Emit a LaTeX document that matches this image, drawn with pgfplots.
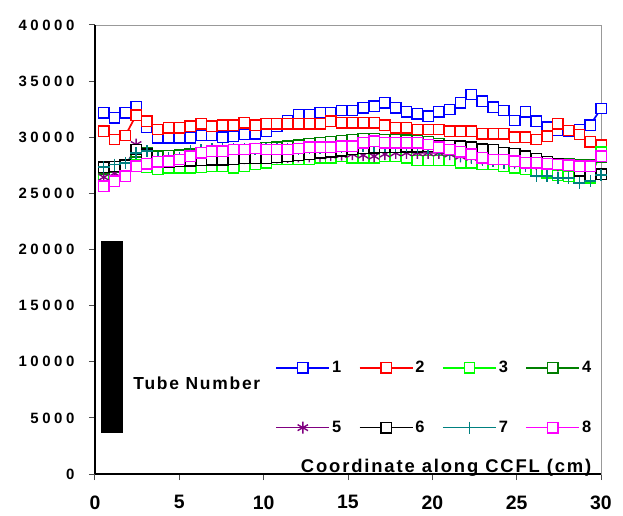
\documentclass[border=0pt]{standalone}
\usepackage{fontspec}
\setmainfont{Liberation Sans}
\newfontfamily\spacedfont{Liberation Sans}[LetterSpace=24]
\newfontfamily\labelfont{Liberation Sans}[LetterSpace=10]
\usepackage{pgfplots}
\usepackage{pgfplotstable}
\pgfplotsset{compat=1.18}

\newcommand\yfont{\spacedfont\bfseries\fontsize{15}{15}\selectfont}
\newcommand\xfont{\bfseries\fontsize{19.5}{20}\selectfont}
\newcommand\lblfont{\labelfont\bfseries\fontsize{17.5}{18}\selectfont}
\newcommand\xlblfont{\labelfont\bfseries\fontsize{18.5}{19}\selectfont}
\newcommand\lgfont{\bfseries\fontsize{16.5}{17}\selectfont}

% brightness along the tube, 8 tubes
\pgfplotstableread{
x     s1    s2    s3    s4    s5    s6    s7    s8
0.52  32180 30540 26300 27200 26440 27340 27340 25640
1.16  31720 29800 26500 27350 26800 27400 27570 26090
1.80  32180 30150 26700 27500 27200 27500 27720 26530
2.44  32700 31970 27500 28700 29350 28900 28610 27420
3.08  30900 31430 27300 28600 28500 28500 28760 27630
3.73  29950 30690 27120 28300 27900 27800 28160 27810
4.37  29950 30840 27270 28350 27900 27800 28160 27870
5.01  29950 30840 27270 28400 27950 27850 28160 28010
5.65  29950 30990 27270 28500 28000 27900 28760 28310
6.29  30150 31200 27300 28600 28050 27950 28820 28610
6.93  30150 30990 27420 28650 28100 28000 28910 28760
7.57  30000 31080 27420 28700 28100 28000 28910 28760
8.21  30100 31080 27270 28800 28150 28050 28910 28910
8.85  30240 31290 27420 28900 28150 28100 28910 28910
9.49  30300 31080 27570 29000 28160 28100 28990 28990
10.14 30540 31200 27720 29050 28160 28150 28910 28910
10.78 31000 31200 28010 29100 28200 28200 28990 28910
11.42 31500 31200 28010 29200 28250 28300 28990 28910
12.06 32000 31200 28010 29300 28300 28400 28990 28990
12.70 32030 31200 28010 29400 28300 28500 29060 29120
13.34 32180 31200 28160 29500 28350 28600 29060 29120
13.98 32180 31430 28160 29600 28400 28700 29120 29120
14.62 32380 31290 28310 29700 28450 28800 29120 29210
15.26 32380 31290 28160 29800 28500 28900 29210 29210
15.90 32620 31290 28160 29850 28400 29000 29210 29500
16.55 32770 31290 28160 29850 28310 29050 29210 29650
17.19 33070 31080 28310 29800 28500 29100 29210 29500
17.83 32620 30840 28310 29800 28600 29100 29210 29500
18.47 32260 30840 28160 29750 28610 29150 29210 29500
19.11 32090 30690 27920 29700 28610 29150 29120 29500
19.75 31880 30690 27920 29600 28610 29200 29060 29350
20.39 32260 30690 27920 29400 28610 29200 28910 29120
21.03 32470 30540 27920 29200 28500 29250 28610 28910
21.67 33070 30540 27720 29000 28300 29200 28310 28700
22.31 33810 30540 27720 28800 28200 29100 28160 28500
22.96 33220 30300 27570 28600 28100 28950 28010 28160
23.60 32680 30300 27570 28400 28000 28900 27870 28010
24.24 32380 30300 27420 28200 27900 28600 27720 28010
24.88 31490 30010 27270 28000 27800 28550 27720 27870
25.52 32260 30010 27120 27900 27700 28300 27420 27720
26.16 31430 29800 26980 27800 27600 28100 26530 27720
26.80 30900 30100 26830 27700 27550 27800 26530 27630
27.44 30600 31200 26620 27600 27500 27600 26380 27570
28.08 30540 30600 26530 27600 27500 27500 26380 27510
28.72 30690 30240 26440 27500 27450 27000 25940 27420
29.36 31080 29590 26380 27500 27500 26600 26090 27420
30.00 32560 29300 28650 28200 28300 26700 26620 28310
}\data

\definecolor{xlblue}{HTML}{0000FF}
\definecolor{xlred}{HTML}{FF0000}
\definecolor{xllime}{HTML}{00FF00}
\definecolor{xlgreen}{HTML}{008000}
\definecolor{xlpurple}{HTML}{800080}
\definecolor{xlteal}{HTML}{008080}
\definecolor{xlpink}{HTML}{FF00FF}

\pgfplotsset{ser/.style={line width=1.7bp, mark size=5.2bp,
    mark options={solid, fill=white, line width=1.4bp}}}

\begin{document}
\begin{tikzpicture}
\begin{axis}[
    scale only axis, width=506bp, height=449bp,
    xmin=0, xmax=30, ymin=0, ymax=40000,
    scaled y ticks=false,
    xtick={0,5,...,30}, ytick={0,5000,...,40000},
    xticklabels={0,5,10,15,20,25,30},
    yticklabels={0,5000,10000,15000,20000,25000,30000,35000,40000},
    tick pos=left, tick align=outside, major tick length=6bp,
    tick style={gray!60!black, line width=1bp},
    axis line style={gray!80, line width=0.8bp},
    yticklabel style={font=\yfont, xshift=-11bp},
    xticklabel style={font=\xfont, yshift=-12bp},
    clip=false,
    legend columns=4,
    legend image code/.code={\draw[mark repeat=2,mark phase=2]
        plot coordinates {(0bp,0bp) (26.5bp,0bp) (53bp,0bp)};},
    legend style={draw=none, fill=none, font=\lgfont,
        at={(axis cs:10.7,6800)}, anchor=west,
        inner sep=0pt, outer sep=0pt, row sep=43bp,
        /tikz/every even column/.append style={column sep=15.5bp}},
]
\addplot[ser, xlblue, mark=square*] table[x=x, y=s1] {\data};
\addplot[ser, xlred, mark=square*] table[x=x, y=s2] {\data};
\addplot[ser, xllime, mark=square*] table[x=x, y=s3] {\data};
\addplot[ser, xlgreen, mark=square*] table[x=x, y=s4] {\data};
\addplot[ser, xlpurple, mark=asterisk, mark size=6bp] table[x=x, y=s5] {\data};
\addplot[ser, black, mark=square*] table[x=x, y=s6] {\data};
\addplot[ser, xlteal, mark=+, mark size=6bp] table[x=x, y=s7] {\data};
\addplot[ser, xlpink, mark=square*] table[x=x, y=s8] {\data};
\legend{1,2,3,4,5,6,7,8}

% black box where the rotated axis title used to be
\fill[black] (axis cs:0.36,3680) rectangle (axis cs:1.68,20770);
\node[anchor=base west, inner sep=0pt, font=\lblfont] at (axis cs:2.27,7550) {Tube Number};
\node[anchor=base east, inner sep=0pt, font=\xlblfont] at (axis cs:29.44,120) {Coordinate along CCFL (cm)};

\draw[black, line width=2bp] (rel axis cs:0,0) -- (rel axis cs:0,1);
\draw[black, line width=1.5bp] (rel axis cs:0,0) -- (rel axis cs:1,0);
\end{axis}
\pgfresetboundingbox
\path[use as bounding box] ([xshift=-95bp,yshift=-42bp]current axis.south west)
    rectangle ([xshift=22bp,yshift=25bp]current axis.north east);
\end{tikzpicture}
\end{document}
